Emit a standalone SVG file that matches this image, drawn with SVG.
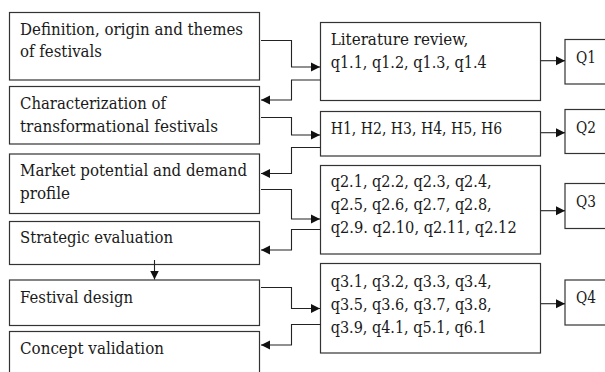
<svg xmlns="http://www.w3.org/2000/svg" width="605" height="372" viewBox="0 0 605 372">
<defs>
<style>
.box{fill:#fff;stroke:#333;stroke-width:1.2}
.t{font-family:"DejaVu Serif","Liberation Serif",serif;font-size:16px;fill:#1a1a1a}
.c{fill:none;stroke:#222;stroke-width:1.1}
</style>
<marker id="ah" markerUnits="userSpaceOnUse" markerWidth="10" markerHeight="10" viewBox="0 0 10 10" refX="9" refY="5" orient="auto">
<path d="M0,0.5 L9,5 L0,9.5 Z" fill="#111"/>
</marker>
</defs>
<rect width="605" height="372" fill="#fff"/>
<g id="n1"><rect class="box" x="9.5" y="12.5" width="250" height="67.5"/>
<text class="t" x="20" y="35" textLength="223" lengthAdjust="spacingAndGlyphs">Definition, origin and themes</text>
<text class="t" x="20" y="57" textLength="82" lengthAdjust="spacingAndGlyphs">of festivals</text></g>
<g id="n2"><rect class="box" x="9.5" y="86.5" width="250" height="57.5"/>
<text class="t" x="20" y="109" textLength="146" lengthAdjust="spacingAndGlyphs">Characterization of</text>
<text class="t" x="20" y="131.5" textLength="198" lengthAdjust="spacingAndGlyphs">transformational festivals</text></g>
<g id="n3"><rect class="box" x="9.5" y="154" width="250" height="59.5"/>
<text class="t" x="20" y="175.5" textLength="227" lengthAdjust="spacingAndGlyphs">Market potential and demand</text>
<text class="t" x="20" y="198.5" textLength="50" lengthAdjust="spacingAndGlyphs">profile</text></g>
<g id="n4"><rect class="box" x="9.5" y="221.5" width="250" height="43"/>
<text class="t" x="20" y="242.5" textLength="153" lengthAdjust="spacingAndGlyphs">Strategic evaluation</text></g>
<g id="n5"><rect class="box" x="9.5" y="280" width="250" height="45.5"/>
<text class="t" x="20" y="302.5" textLength="113" lengthAdjust="spacingAndGlyphs">Festival design</text></g>
<g id="n6"><rect class="box" x="9.5" y="331.5" width="250" height="60"/>
<text class="t" x="20" y="353.5" textLength="144" lengthAdjust="spacingAndGlyphs">Concept validation</text></g>
<g id="r1"><rect class="box" x="320.5" y="22.5" width="220" height="78"/>
<text class="t" x="330.7" y="45" textLength="137.6" lengthAdjust="spacingAndGlyphs">Literature review,</text>
<text class="t" x="330.7" y="68" textLength="156" lengthAdjust="spacingAndGlyphs">q1.1, q1.2, q1.3, q1.4</text></g>
<g id="r2"><rect class="box" x="320.5" y="111.5" width="220" height="44.5"/>
<text class="t" x="330.7" y="134" textLength="171.6" lengthAdjust="spacingAndGlyphs">H1, H2, H3, H4, H5, H6</text></g>
<g id="r3"><rect class="box" x="320.5" y="165.5" width="220" height="88.5"/>
<text class="t" x="330.7" y="187" textLength="161" lengthAdjust="spacingAndGlyphs">q2.1, q2.2, q2.3, q2.4,</text>
<text class="t" x="330.7" y="210" textLength="161" lengthAdjust="spacingAndGlyphs">q2.5, q2.6, q2.7, q2.8,</text>
<text class="t" x="330.7" y="233.3" textLength="186" lengthAdjust="spacingAndGlyphs">q2.9. q2.10, q2.11, q2.12</text></g>
<g id="r4"><rect class="box" x="320.5" y="263.5" width="220" height="89.5"/>
<text class="t" x="330.7" y="286.7" textLength="161" lengthAdjust="spacingAndGlyphs">q3.1, q3.2, q3.3, q3.4,</text>
<text class="t" x="330.7" y="310" textLength="161" lengthAdjust="spacingAndGlyphs">q3.5, q3.6, q3.7, q3.8,</text>
<text class="t" x="330.7" y="332.7" textLength="156" lengthAdjust="spacingAndGlyphs">q3.9, q4.1, q5.1, q6.1</text></g>
<g id="q1"><rect class="box" x="565" y="39.5" width="60" height="44.5"/>
<text class="t" x="576" y="63" textLength="20" lengthAdjust="spacingAndGlyphs">Q1</text></g>
<g id="q2"><rect class="box" x="565" y="109.5" width="60" height="44"/>
<text class="t" x="576" y="133" textLength="20" lengthAdjust="spacingAndGlyphs">Q2</text></g>
<g id="q3"><rect class="box" x="565" y="183.5" width="60" height="45"/>
<text class="t" x="576" y="206.7" textLength="20" lengthAdjust="spacingAndGlyphs">Q3</text></g>
<g id="q4"><rect class="box" x="565" y="280" width="60" height="45"/>
<text class="t" x="576" y="303.3" textLength="20" lengthAdjust="spacingAndGlyphs">Q4</text></g>
<g id="connectors">
<path class="c" d="M261,40.5 H291.5 V67 H320" marker-end="url(#ah)"/>
<path class="c" d="M320.5,80 H291.5 V100 H261" marker-end="url(#ah)"/>
<path class="c" d="M261,117.5 H291.5 V135 H320" marker-end="url(#ah)"/>
<path class="c" d="M320.5,147.5 H291.5 V173.5 H261" marker-end="url(#ah)"/>
<path class="c" d="M261,189.5 H291.5 V219 H320" marker-end="url(#ah)"/>
<path class="c" d="M320.5,229.5 H291.5 V250 H261" marker-end="url(#ah)"/>
<path class="c" d="M154.5,260 V279.5" marker-end="url(#ah)"/>
<path class="c" d="M261,287.5 H291.5 V308.5 H320" marker-end="url(#ah)"/>
<path class="c" d="M320.5,324.5 H291.5 V345 H261" marker-end="url(#ah)"/>
<path class="c" d="M541,60.7 H565" marker-end="url(#ah)"/>
<path class="c" d="M541,132.7 H565" marker-end="url(#ah)"/>
<path class="c" d="M541,210.7 H565" marker-end="url(#ah)"/>
<path class="c" d="M541,303.7 H565" marker-end="url(#ah)"/>
</g>
</svg>
